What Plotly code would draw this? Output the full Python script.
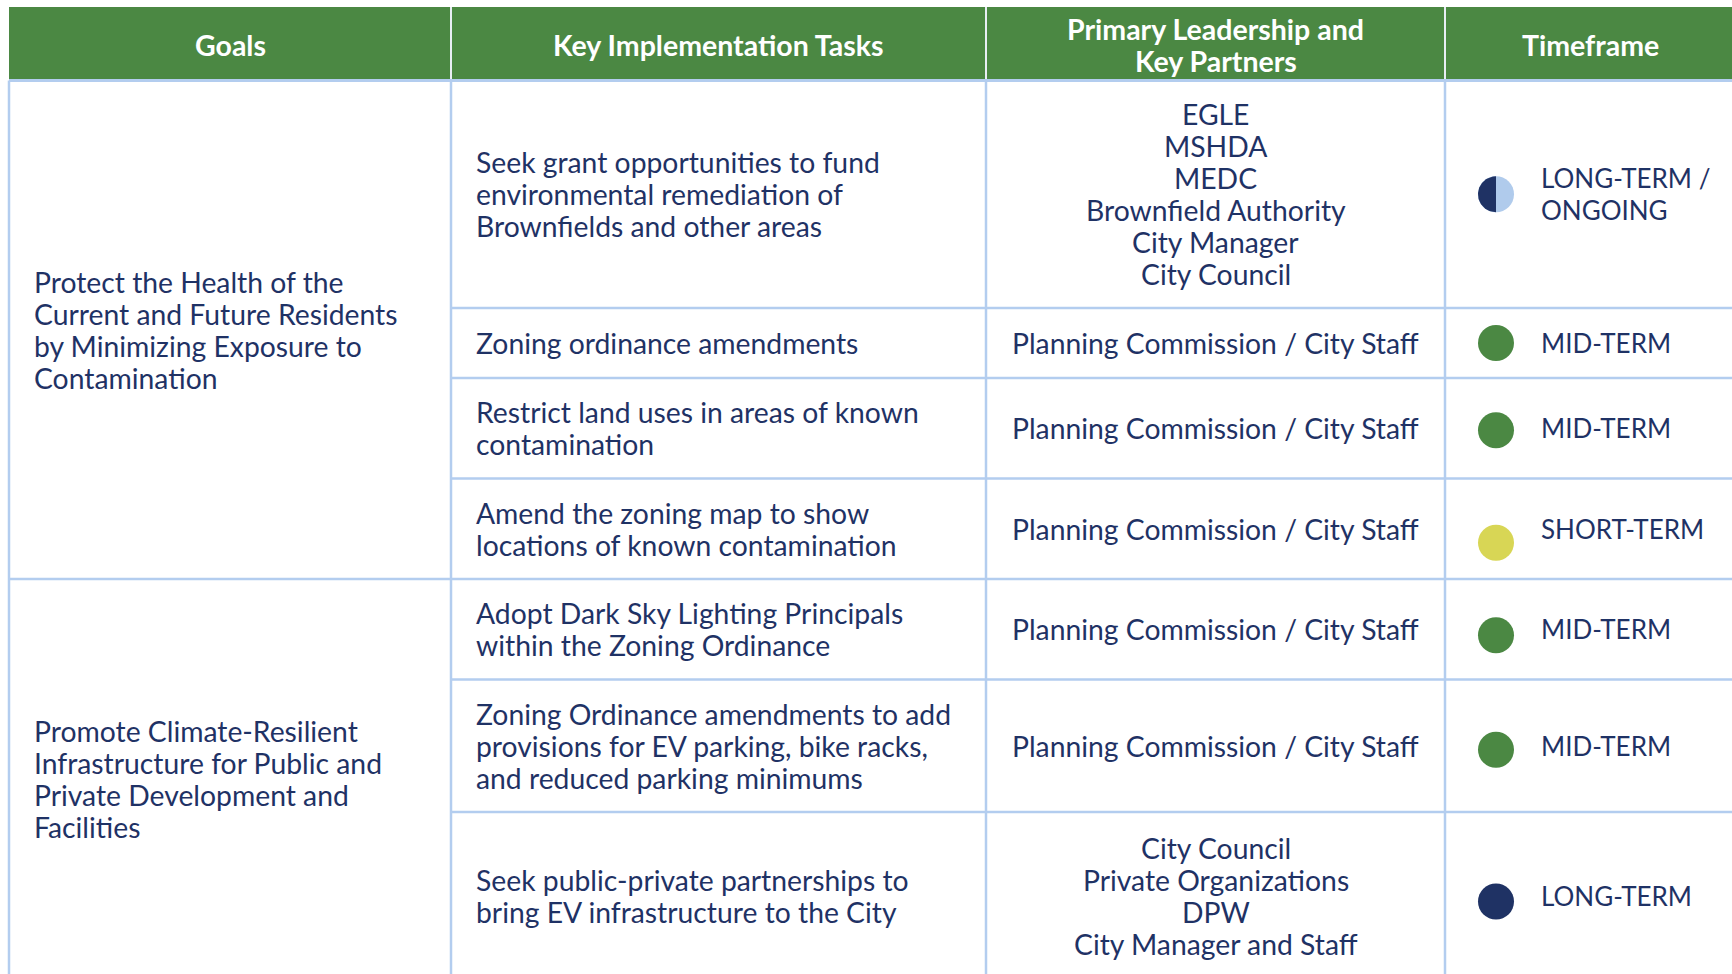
import numpy as np
import plotly.graph_objects as go

# ---------------- data ----------------
HEADERS = ["Goals", "Key Implementation Tasks", "Primary Leadership and\nKey Partners", "Timeframe"]

GOALS = [
    "Protect the Health of the\nCurrent and Future Residents\nby Minimizing Exposure to\nContamination",
    "Promote Climate-Resilient\nInfrastructure for Public and\nPrivate Development and\nFacilities",
]
GOAL_SPANS = [4, 3]

TASKS = [
    "Seek grant opportunities to fund\nenvironmental remediation of\nBrownfields and other areas",
    "Zoning ordinance amendments",
    "Restrict land uses in areas of known\ncontamination",
    "Amend the zoning map to show\nlocations of known contamination",
    "Adopt Dark Sky Lighting Principals\nwithin the Zoning Ordinance",
    "Zoning Ordinance amendments to add\nprovisions for EV parking, bike racks,\nand reduced parking minimums",
    "Seek public-private partnerships to\nbring EV infrastructure to the City",
]

PARTNERS = [
    "EGLE\nMSHDA\nMEDC\nBrownfield Authority\nCity Manager\nCity Council",
    "Planning Commission / City Staff",
    "Planning Commission / City Staff",
    "Planning Commission / City Staff",
    "Planning Commission / City Staff",
    "Planning Commission / City Staff",
    "City Council\nPrivate Organizations\nDPW\nCity Manager and Staff",
]

TIMEFRAMES = ["LONG-TERM / ONGOING", "MID-TERM", "MID-TERM", "SHORT-TERM",
              "MID-TERM", "MID-TERM", "LONG-TERM"]
TIMEFRAME_TEXT = {"LONG-TERM / ONGOING": "LONG-TERM /\nONGOING"}

# ---------------- style / layout ----------------
W, H = 1732, 974
GREEN = "#4b8843"
NAVY = "#1f3264"
LIGHTBLUE = "#b0cbec"
YELLOW = "#d8d655"
GRID = "#b3cdef"
TEXT = "#1f3265"
DOT_COLORS = {"MID-TERM": GREEN, "SHORT-TERM": YELLOW, "LONG-TERM": NAVY}

BODY_FONT = "Lato"
BODY_SIZE = 28.3
TF_SIZE = 26
HEAD_SIZE = 28.5
LINE_H = 32

COL_EDGES = [9, 451, 986, 1445, 1745]
HEADER_TOP, HEADER_BOTTOM = 7, 80.5
ROW_EDGES = [80.5, 308, 378, 478.5, 579, 679.5, 812, 979]
DOT_NUDGE = [0, 0, 2, 14, 6, 4, 6]
DOT_X_OFF, DOT_D, TF_TEXT_OFF = 51, 36, 94
PAD = 22.5

fig = go.Figure()
shapes = []
annotations = []


def add_lines(text, x, yc, xanchor, size=BODY_SIZE, color=TEXT, family=BODY_FONT, bold=False):
    lines = text.split("\n")
    n = len(lines)
    for i, ln in enumerate(lines):
        y = yc + (i - (n - 1) / 2) * LINE_H
        annotations.append(dict(
            x=x, y=y, xref="x", yref="y", text=f"<b>{ln}</b>" if bold else ln,
            showarrow=False, xanchor=xanchor, yanchor="middle",
            font=dict(family=family, size=size, color=color)))


# header
shapes.append(dict(type="rect", x0=COL_EDGES[0], x1=COL_EDGES[-1], y0=HEADER_TOP, y1=HEADER_BOTTOM,
                   xref="x", yref="y", fillcolor=GREEN, line=dict(width=0), layer="below"))
for xe in COL_EDGES[1:-1]:
    shapes.append(dict(type="line", x0=xe, x1=xe, y0=HEADER_TOP, y1=HEADER_BOTTOM, xref="x", yref="y",
                       line=dict(color="#e8eef5", width=2)))
for i, h in enumerate(HEADERS):
    xc = (COL_EDGES[i] + COL_EDGES[i + 1]) / 2
    if i == 3:
        xc = (COL_EDGES[i] + 1735) / 2
    add_lines(h, xc, (HEADER_TOP + HEADER_BOTTOM) / 2 + 1, "center", size=HEAD_SIZE,
              color="white", bold=True)

# grid lines
for xe in COL_EDGES[:-1]:
    shapes.append(dict(type="line", x0=xe, x1=xe, y0=HEADER_BOTTOM, y1=H + 10, xref="x", yref="y",
                       line=dict(color=GRID, width=2.5)))
shapes.append(dict(type="line", x0=COL_EDGES[0], x1=W + 10, y0=HEADER_BOTTOM, y1=HEADER_BOTTOM,
                   xref="x", yref="y", line=dict(color=GRID, width=3)))
goal_bounds = list(np.cumsum(GOAL_SPANS))
for r in range(1, len(ROW_EDGES) - 1):
    x0 = COL_EDGES[0] if r in goal_bounds else COL_EDGES[1]
    shapes.append(dict(type="line", x0=x0, x1=W + 10, y0=ROW_EDGES[r], y1=ROW_EDGES[r],
                       xref="x", yref="y", line=dict(color=GRID, width=2.5)))

# goals text
start = 0
for g, span in zip(GOALS, GOAL_SPANS):
    yc = (ROW_EDGES[start] + ROW_EDGES[start + span]) / 2
    add_lines(g, COL_EDGES[0] + PAD, yc, "left")
    start += span

# tasks / partners / timeframe
dot_x, dot_y, dot_c = [], [], []
for r in range(len(TASKS)):
    yc = (ROW_EDGES[r] + ROW_EDGES[r + 1]) / 2
    add_lines(TASKS[r], COL_EDGES[1] + PAD, yc, "left")
    add_lines(PARTNERS[r], (COL_EDGES[2] + COL_EDGES[3]) / 2, yc, "center")
    tf = TIMEFRAMES[r]
    add_lines(TIMEFRAME_TEXT.get(tf, tf), COL_EDGES[3] + TF_TEXT_OFF, yc, "left", size=TF_SIZE)
    dx, dy = COL_EDGES[3] + DOT_X_OFF, yc + DOT_NUDGE[r]
    if tf in DOT_COLORS:
        dot_x.append(dx); dot_y.append(dy); dot_c.append(DOT_COLORS[tf])
    else:
        fig.add_trace(go.Scatter(x=[dx], y=[dy], mode="markers", hoverinfo="skip",
                                 marker=dict(size=DOT_D, color=LIGHTBLUE, line=dict(width=0))))
        t = np.linspace(np.pi / 2, 3 * np.pi / 2, 60)
        R = DOT_D / 2
        fig.add_trace(go.Scatter(x=dx + R * np.cos(t), y=dy + R * np.sin(t), mode="lines",
                                 fill="toself", fillcolor=NAVY, line=dict(width=0, color=NAVY),
                                 hoverinfo="skip"))

fig.add_trace(go.Scatter(x=dot_x, y=dot_y, mode="markers", hoverinfo="skip",
                         marker=dict(size=DOT_D, color=dot_c, line=dict(width=0))))

fig.update_layout(
    width=W, height=H, margin=dict(l=0, r=0, t=0, b=0),
    paper_bgcolor="white", plot_bgcolor="white", showlegend=False,
    xaxis=dict(range=[0, W], visible=False, fixedrange=True),
    yaxis=dict(range=[H, 0], visible=False, fixedrange=True),
    shapes=shapes, annotations=annotations,
)
fig.write_html(
    "out.html",
    config={"displayModeBar": False},
    post_script="document.body.style.margin='0';document.body.style.overflow='hidden';",
)
